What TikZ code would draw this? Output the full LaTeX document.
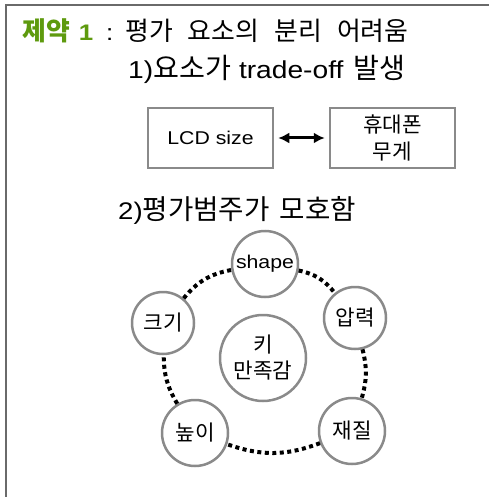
\documentclass[tikz,border=0pt]{standalone}
\usepackage{fontspec}
\setmainfont[FakeStretch=1.15]{Liberation Sans}
\newfontfamily\kr[Scale=1.15]{Noto Sans CJK KR}
\usetikzlibrary{arrows.meta}
\definecolor{framegray}{HTML}{6A6A6A}
\definecolor{edgegray}{HTML}{8A8A8A}
\definecolor{titlegreen}{HTML}{5E9A0E}
\newcommand{\gap}{\hspace{15pt}}
\begin{document}
\begin{tikzpicture}[x=1pt,y=-1pt,
  txt/.style={inner sep=0pt, anchor=west},
  boxnode/.style={draw=edgegray, line width=2.5pt, minimum width=125pt, minimum height=60pt, inner sep=0pt, align=center, font=\fontsize{18.5}{27}\selectfont},
  cnode/.style={draw=edgegray, circle, line width=2.5pt, inner sep=0pt, align=center, font=\fontsize{18.5}{26}\selectfont},
  dotline/.style={line width=4pt, dash pattern=on 4pt off 3.5pt},
  twohead/.style={line width=3pt, {Latex[length=11pt,width=11pt]}-{Latex[length=11pt,width=11pt]}, shorten >=4pt, shorten <=4pt}]
\useasboundingbox (0,0) rectangle (489,497);
\draw[framegray, line width=2.5pt] (6,497) -- (6,5) -- (489,5);

\node[txt, font=\fontsize{22.5}{26}\selectfont] (title) at (22,31)
  {\textcolor{titlegreen}{\bfseries{\kr 제약}\hspace{9pt}1}\hspace{13pt}:\hspace{12pt}{\kr 평가}\gap{\kr 요소의}\gap{\kr 분리}\gap{\kr 어려움}};
\node[txt, font=\fontsize{24.5}{28}\selectfont] (line1) at (128,69)
  {1){\kr 요소가}\hspace{8pt}trade-off\hspace{10pt}{\kr 발생}};

\node[boxnode] (lcd) at (210.5,138) {LCD size};
\node[boxnode] (phone) at (392.5,138) {\kr 휴대폰\\\kr 무게};
\draw[twohead] (lcd) -- (phone);

\node[txt, font=\fontsize{24}{28}\selectfont] (line2) at (118,210)
  {2){\kr 평가범주가}\hspace{10pt}{\kr 모호함}};

\node[cnode, minimum size=66pt] (shape) at (265,264) {shape};
\node[cnode, minimum size=62pt] (size) at (163,323) {\kr 크기};
\node[cnode, minimum size=62pt] (press) at (355,318) {\kr 압력};
\node[cnode, minimum size=86pt] (key) at (263,358) {\kr 키\\\kr 만족감};
\node[cnode, minimum size=66pt] (height) at (195,433) {\kr 높이};
\node[cnode, minimum size=66pt] (mat) at (352,431) {\kr 재질};

\draw[dotline] (shape) to[bend left=20] (press);
\draw[dotline] (press) to[bend left=15] (mat);
\draw[dotline] (mat) to[bend left=20] (height);
\draw[dotline] (height) to[bend left=15] (size);
\draw[dotline] (size) to[bend left=20] (shape);
\end{tikzpicture}
\end{document}
